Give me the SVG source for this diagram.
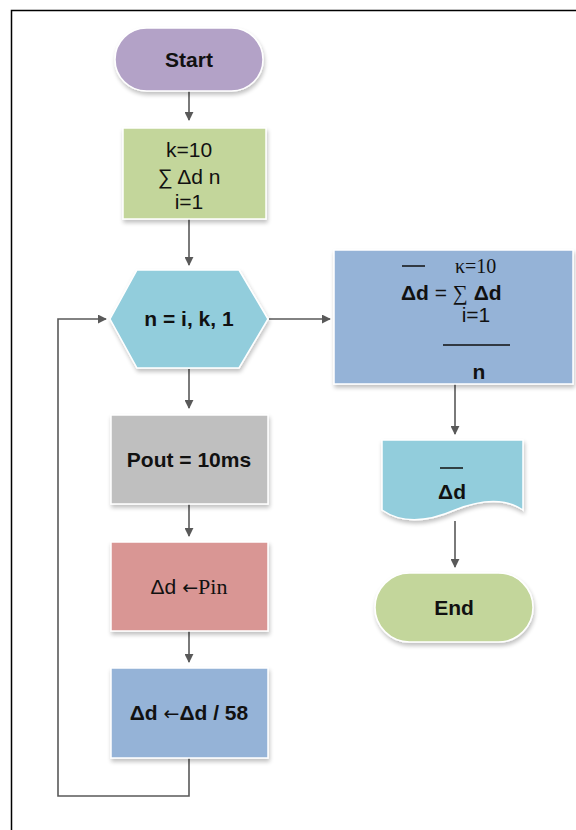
<svg xmlns="http://www.w3.org/2000/svg" width="576" height="830" viewBox="0 0 576 830">
<style>
.t{font-family:"Liberation Sans",Arial,sans-serif;font-size:21px;fill:#111;text-anchor:middle}
.l{font-family:"Liberation Sans",Arial,sans-serif;font-size:21px;fill:#111;text-anchor:start}
.b{font-weight:bold}
.s{font-family:"Liberation Serif","Times New Roman",serif;font-weight:normal}
.ar{font-family:"DejaVu Sans",sans-serif;font-weight:normal;font-size:19px}
.edge{stroke:#595959;stroke-width:1.6;fill:none}
.shape{stroke:#fff;stroke-width:1.5;filter:url(#sh)}
</style>
<defs>
<marker id="ah" viewBox="0 0 10 10" refX="9" refY="5" markerWidth="9" markerHeight="9" markerUnits="userSpaceOnUse" orient="auto">
<path d="M0,0 L10,5 L0,10 Z" fill="#595959"/>
</marker>
<filter id="sh" x="-10%" y="-10%" width="125%" height="130%">
<feGaussianBlur in="SourceAlpha" stdDeviation="2"/>
<feOffset dx="1" dy="3" result="o"/>
<feComponentTransfer><feFuncA type="linear" slope="0.25"/></feComponentTransfer>
<feMerge><feMergeNode/><feMergeNode in="SourceGraphic"/></feMerge>
</filter>
</defs>
<rect width="576" height="830" fill="#fff"/>
<path d="M11.5,830 V10.5 H576" stroke="#000" stroke-width="1.5" fill="none"/>

<g id="connectors">
<line class="edge" x1="189" y1="91" x2="189" y2="120" marker-end="url(#ah)"/>
<line class="edge" x1="189" y1="219" x2="189" y2="265" marker-end="url(#ah)"/>
<line class="edge" x1="269" y1="319" x2="330" y2="319" marker-end="url(#ah)"/>
<line class="edge" x1="189" y1="369" x2="189" y2="408" marker-end="url(#ah)"/>
<line class="edge" x1="189" y1="504" x2="189" y2="536" marker-end="url(#ah)"/>
<line class="edge" x1="189" y1="631" x2="189" y2="662" marker-end="url(#ah)"/>
<path class="edge" d="M189,758 V796 H58 V319 H106" marker-end="url(#ah)"/>
<line class="edge" x1="455" y1="384" x2="455" y2="434" marker-end="url(#ah)"/>
<line class="edge" x1="455" y1="521" x2="455" y2="567" marker-end="url(#ah)"/>
</g>

<g id="start">
<rect class="shape" x="115" y="28" width="148" height="63" rx="31.5" fill="#b3a2c7"/>
<text class="t b" x="189" y="67">Start</text>
</g>

<g id="sum">
<rect class="shape" x="123" y="128" width="143" height="91" fill="#c3d69b"/>
<text class="t" x="189" y="157" font-size="20">k=10</text>
<text class="t" x="189" y="184" font-size="20">∑ Δd n</text>
<text class="t" x="189" y="209" font-size="20">i=1</text>
</g>

<g id="loop">
<polygon class="shape" points="110,319 137,270 239,270 268,319 239,368 137,368" fill="#92cddc"/>
<text class="t b" x="189" y="326">n = i, k, 1</text>
</g>

<g id="pout">
<rect class="shape" x="111" y="415" width="157" height="89" fill="#bfbfbf"/>
<text class="t b" x="189" y="467">Pout = 10ms</text>
</g>

<g id="pin">
<rect class="shape" x="111" y="542" width="157" height="89" fill="#d99694"/>
<text class="t" x="189" y="594"><tspan>Δd </tspan><tspan class="ar">←</tspan><tspan class="s" font-size="22">Pin</tspan></text>
</g>

<g id="divide">
<rect class="shape" x="111" y="668" width="157" height="90" fill="#95b3d7"/>
<text class="t b" x="189" y="720"><tspan>Δd </tspan><tspan class="ar">←</tspan><tspan>Δd / 58</tspan></text>
</g>

<g id="mean">
<rect class="shape" x="334" y="250" width="239" height="134" fill="#95b3d7"/>
<line x1="402" y1="266" x2="425" y2="266" stroke="#111" stroke-width="1.5"/>
<text class="s" x="455" y="273" font-size="20" fill="#111">κ=10</text>
<text class="l" x="401" y="300"><tspan class="b">Δd</tspan><tspan> = </tspan><tspan class="s">∑</tspan><tspan class="b"> Δd</tspan></text>
<text class="t" x="476" y="322">i=1</text>
<line x1="443" y1="345" x2="510" y2="345" stroke="#111" stroke-width="1.5"/>
<text class="t b" x="479" y="379">n</text>
</g>

<g id="output">
<path class="shape" d="M382,440 H523 V510 C505,498 480,500 455,510 C432,520 405,526 382,510 Z" fill="#92cddc"/>
<line x1="440" y1="468" x2="463" y2="468" stroke="#111" stroke-width="1.5"/>
<text class="t b" x="452" y="499">Δd</text>
</g>

<g id="end">
<rect class="shape" x="375" y="573" width="158" height="69" rx="34.5" fill="#c3d69b"/>
<text class="t b" x="454" y="615">End</text>
</g>
</svg>
